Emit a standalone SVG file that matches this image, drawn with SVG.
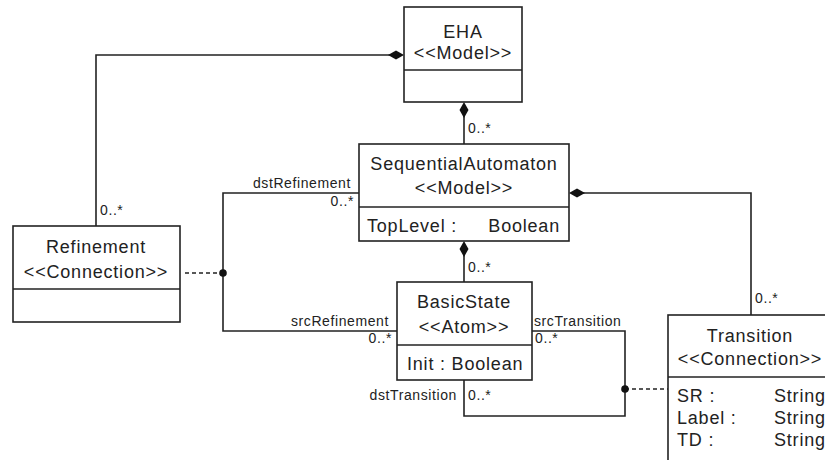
<svg xmlns="http://www.w3.org/2000/svg" width="825" height="460" viewBox="0 0 825 460">
<style>
.box{fill:#fff;stroke:#222;stroke-width:1.6}
.ln{fill:none;stroke:#222;stroke-width:1.6}
.dash{fill:none;stroke:#222;stroke-width:1.6;stroke-dasharray:4 3}
.dia{fill:#111;stroke:none}
.nm{font-family:"Liberation Sans",Arial,sans-serif;font-size:18px;letter-spacing:0.8px;fill:#222;text-anchor:middle}
.at{font-family:"Liberation Sans",Arial,sans-serif;font-size:18px;letter-spacing:0.8px;fill:#222}
.lb{font-family:"Liberation Sans",Arial,sans-serif;font-size:14px;letter-spacing:0.6px;fill:#222}
.end{text-anchor:end}
</style>
<rect width="825" height="460" fill="#fff"/>
<g id="connectors">
  <!-- EHA - Refinement -->
  <polyline class="ln" points="96,226 96,55 390,55"/>
  <polygon class="dia" points="388,55 396,50.5 404,55 396,59.5"/>
  <text class="lb" x="100" y="215">0..*</text>
  <!-- EHA - SequentialAutomaton -->
  <line class="ln" x1="464" y1="116" x2="464" y2="144"/>
  <polygon class="dia" points="464,102 468.5,110 464,118 459.5,110"/>
  <text class="lb" x="468" y="133">0..*</text>
  <!-- SequentialAutomaton - BasicState -->
  <line class="ln" x1="464" y1="255" x2="464" y2="282"/>
  <polygon class="dia" points="464,241 468.5,249 464,257 459.5,249"/>
  <text class="lb" x="468" y="272">0..*</text>
  <!-- SequentialAutomaton - Transition -->
  <polyline class="ln" points="583,193 751,193 751,315"/>
  <polygon class="dia" points="569,193 577,188.5 585,193 577,197.5"/>
  <text class="lb" x="755" y="303">0..*</text>
  <!-- Refinement association -->
  <polyline class="ln" points="359,193 223,193 223,331 397,331"/>
  <line class="dash" x1="185" y1="273" x2="223" y2="273"/>
  <circle cx="223" cy="273" r="3.8" fill="#111"/>
  <text class="lb end" x="351" y="188">dstRefinement</text>
  <text class="lb end" x="354" y="206">0..*</text>
  <text class="lb end" x="389" y="326">srcRefinement</text>
  <text class="lb end" x="392" y="343">0..*</text>
  <!-- Transition association -->
  <polyline class="ln" points="532,331 625,331 625,416 464,416 464,380"/>
  <line class="dash" x1="625" y1="389" x2="668" y2="389"/>
  <circle cx="625" cy="389" r="3.8" fill="#111"/>
  <text class="lb" x="534" y="326">srcTransition</text>
  <text class="lb" x="535" y="343">0..*</text>
  <text class="lb end" x="457" y="400">dstTransition</text>
  <text class="lb" x="468" y="400">0..*</text>
</g>
<g id="EHA">
  <rect class="box" x="404" y="7" width="118" height="95"/>
  <line class="ln" x1="404" y1="70" x2="522" y2="70"/>
  <text class="nm" x="463" y="38">EHA</text>
  <text class="nm" x="463" y="59">&lt;&lt;Model&gt;&gt;</text>
</g>
<g id="SequentialAutomaton">
  <rect class="box" x="359" y="144" width="210" height="97"/>
  <line class="ln" x1="359" y1="207" x2="569" y2="207"/>
  <text class="nm" x="464" y="170">SequentialAutomaton</text>
  <text class="nm" x="464" y="194">&lt;&lt;Model&gt;&gt;</text>
  <text class="at" x="367" y="232">TopLevel :</text>
  <text class="at end" x="560" y="232">Boolean</text>
</g>
<g id="Refinement">
  <rect class="box" x="13" y="226" width="167" height="96"/>
  <line class="ln" x1="13" y1="289" x2="180" y2="289"/>
  <text class="nm" x="96" y="253">Refinement</text>
  <text class="nm" x="96" y="278">&lt;&lt;Connection&gt;&gt;</text>
</g>
<g id="BasicState">
  <rect class="box" x="397" y="282" width="135" height="98"/>
  <line class="ln" x1="397" y1="345" x2="532" y2="345"/>
  <text class="nm" x="464" y="308">BasicState</text>
  <text class="nm" x="464" y="333">&lt;&lt;Atom&gt;&gt;</text>
  <text class="at" x="407" y="370">Init : Boolean</text>
</g>
<g id="Transition">
  <rect class="box" x="668" y="315" width="164" height="160"/>
  <line class="ln" x1="668" y1="377" x2="832" y2="377"/>
  <text class="nm" x="750" y="342">Transition</text>
  <text class="nm" x="750" y="365">&lt;&lt;Connection&gt;&gt;</text>
  <text class="at" x="677" y="402">SR :</text>
  <text class="at" x="774" y="402">String</text>
  <text class="at" x="677" y="424">Label :</text>
  <text class="at" x="774" y="424">String</text>
  <text class="at" x="677" y="446">TD :</text>
  <text class="at" x="774" y="446">String</text>
</g>
</svg>
